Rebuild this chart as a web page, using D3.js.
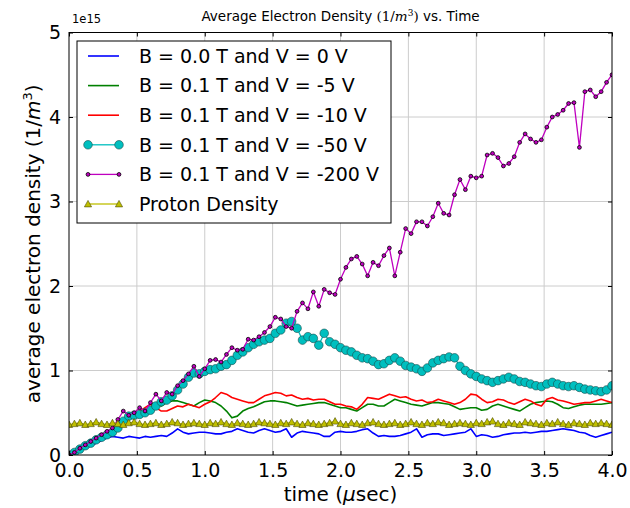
<!DOCTYPE html>
<html>
<head>
<meta charset="utf-8">
<script src="https://cdn.jsdelivr.net/npm/d3@7"></script>
<style>
  html, body { margin: 0; padding: 0; background: #fff; }
  svg { display: block; font-family: "DejaVu Sans", sans-serif; }
</style>
</head>
<body>
<svg id="chart" width="630" height="508"></svg>
<script>
// ---- data (density in units of 1e15 m^-3, time in microseconds) ----
const time = [
  0.00,0.04,0.08,0.12,0.16,0.20,0.24,0.28,0.32,0.36,
  0.40,0.44,0.48,0.52,0.56,0.60,0.64,0.68,0.72,0.76,
  0.80,0.84,0.88,0.92,0.96,1.00,1.04,1.08,1.12,1.16,
  1.20,1.24,1.28,1.32,1.36,1.40,1.44,1.48,1.52,1.56,
  1.60,1.64,1.68,1.72,1.76,1.80,1.84,1.88,1.92,1.96,
  2.00,2.04,2.08,2.12,2.16,2.20,2.24,2.28,2.32,2.36,
  2.40,2.44,2.48,2.52,2.56,2.60,2.64,2.68,2.72,2.76,
  2.80,2.84,2.88,2.92,2.96,3.00,3.04,3.08,3.12,3.16,
  3.20,3.24,3.28,3.32,3.36,3.40,3.44,3.48,3.52,3.56,
  3.60,3.64,3.68,3.72,3.76,3.80,3.84,3.88,3.92,3.96,
  4.00
];
const b00v0 = [
  0.00,0.02,0.05,0.08,0.11,0.14,0.17,0.20,0.22,0.21,
  0.20,0.22,0.21,0.20,0.22,0.21,0.22,0.23,0.22,0.26,
  0.31,0.27,0.25,0.26,0.27,0.27,0.26,0.25,0.25,0.27,
  0.28,0.31,0.29,0.27,0.26,0.29,0.31,0.29,0.27,0.28,
  0.31,0.21,0.26,0.28,0.27,0.26,0.25,0.22,0.22,0.27,
  0.28,0.27,0.27,0.28,0.30,0.31,0.26,0.22,0.23,0.22,
  0.22,0.23,0.25,0.27,0.31,0.21,0.24,0.25,0.25,0.23,
  0.24,0.25,0.26,0.27,0.31,0.22,0.24,0.23,0.21,0.22,
  0.24,0.25,0.26,0.26,0.27,0.26,0.27,0.28,0.28,0.29,
  0.30,0.31,0.30,0.29,0.27,0.26,0.23,0.21,0.23,0.25,
  0.27
];
const b01v5 = [
  0.00,0.03,0.07,0.11,0.15,0.19,0.22,0.26,0.30,0.35,
  0.40,0.44,0.46,0.49,0.52,0.56,0.60,0.58,0.62,0.64,
  0.64,0.62,0.60,0.58,0.62,0.65,0.64,0.62,0.58,0.52,
  0.44,0.46,0.52,0.55,0.57,0.60,0.63,0.64,0.64,0.63,
  0.62,0.60,0.58,0.59,0.60,0.61,0.62,0.62,0.60,0.58,
  0.56,0.56,0.54,0.52,0.56,0.60,0.60,0.58,0.58,0.62,
  0.66,0.64,0.62,0.60,0.59,0.58,0.60,0.62,0.62,0.61,
  0.60,0.57,0.54,0.55,0.56,0.56,0.53,0.54,0.58,0.60,
  0.58,0.56,0.54,0.52,0.56,0.60,0.62,0.63,0.64,0.63,
  0.60,0.56,0.55,0.57,0.59,0.60,0.60,0.60,0.60,0.61,
  0.62
];
const b01v10 = [
  0.00,0.03,0.07,0.11,0.15,0.19,0.23,0.26,0.30,0.36,
  0.42,0.45,0.48,0.52,0.56,0.60,0.56,0.52,0.52,0.55,
  0.58,0.57,0.60,0.58,0.56,0.60,0.63,0.68,0.74,0.72,
  0.68,0.66,0.64,0.62,0.62,0.66,0.70,0.72,0.74,0.73,
  0.70,0.71,0.68,0.66,0.67,0.65,0.66,0.66,0.63,0.60,
  0.60,0.58,0.57,0.54,0.60,0.68,0.67,0.66,0.69,0.72,
  0.70,0.68,0.69,0.66,0.64,0.65,0.62,0.63,0.66,0.64,
  0.62,0.60,0.62,0.66,0.72,0.71,0.66,0.62,0.63,0.66,
  0.65,0.62,0.60,0.63,0.66,0.64,0.60,0.58,0.66,0.68,
  0.65,0.64,0.62,0.60,0.61,0.62,0.62,0.64,0.66,0.64,
  0.62
];
const b01v50 = [
  0.00,0.03,0.07,0.11,0.14,0.18,0.21,0.24,0.27,0.32,
  0.40,0.46,0.47,0.48,0.50,0.53,0.58,0.63,0.65,0.70,
  0.77,0.84,0.92,0.97,0.96,0.99,1.01,1.02,1.05,1.07,
  1.12,1.18,1.22,1.27,1.31,1.34,1.36,1.38,1.44,1.48,
  1.56,1.58,1.50,1.36,1.40,1.38,1.30,1.44,1.34,1.31,
  1.27,1.24,1.22,1.18,1.15,1.14,1.11,1.07,1.08,1.12,
  1.15,1.11,1.06,1.04,1.02,0.99,1.03,1.09,1.12,1.14,
  1.16,1.15,1.05,1.00,0.96,0.93,0.90,0.88,0.86,0.88,
  0.90,0.92,0.90,0.87,0.86,0.84,0.82,0.81,0.84,0.86,
  0.84,0.82,0.81,0.82,0.80,0.78,0.77,0.76,0.75,0.77,
  0.82
];
const b01v200 = [
  0.00,0.03,0.08,0.12,0.16,0.20,0.24,0.28,0.32,0.42,
  0.52,0.47,0.50,0.56,0.52,0.62,0.72,0.64,0.74,0.72,
  0.82,0.88,0.96,1.05,0.93,1.02,1.12,1.13,1.10,1.19,
  1.27,1.24,1.25,1.37,1.36,1.40,1.45,1.52,1.63,1.61,
  1.52,1.50,1.70,1.80,1.73,1.93,1.76,1.96,1.92,1.90,
  2.08,2.22,2.32,2.35,2.26,2.12,2.28,2.24,2.36,2.45,
  2.12,2.40,2.68,2.62,2.76,2.76,2.71,2.82,2.98,2.86,
  2.84,3.08,3.26,3.14,3.30,3.28,3.30,3.55,3.57,3.52,
  3.42,3.45,3.53,3.70,3.80,3.74,3.70,3.73,3.88,4.00,
  4.03,4.08,4.16,4.17,3.64,4.30,4.32,4.24,4.30,4.41,
  4.50
];
const proton = [
  0.36,0.37,0.38,0.36,0.37,0.39,0.37,0.36,0.38,0.37,
  0.36,0.38,0.39,0.37,0.36,0.37,0.38,0.36,0.37,0.39,
  0.38,0.36,0.37,0.38,0.37,0.36,0.38,0.37,0.39,0.37,
  0.36,0.38,0.37,0.36,0.37,0.39,0.38,0.37,0.36,0.38,
  0.37,0.39,0.37,0.36,0.38,0.37,0.36,0.37,0.38,0.40,
  0.37,0.36,0.38,0.37,0.36,0.38,0.39,0.37,0.36,0.37,
  0.38,0.36,0.37,0.39,0.37,0.36,0.38,0.37,0.39,0.38,
  0.36,0.37,0.38,0.37,0.36,0.38,0.37,0.39,0.40,0.37,
  0.36,0.38,0.37,0.36,0.39,0.38,0.37,0.36,0.38,0.37,
  0.39,0.37,0.36,0.38,0.37,0.36,0.38,0.37,0.38,0.37,
  0.36
];
const seriesNames = [
  "B = 0.0 T and V = 0 V",
  "B = 0.1 T and V = -5 V",
  "B = 0.1 T and V = -10 V",
  "B = 0.1 T and V = -50 V",
  "B = 0.1 T and V = -200 V",
  "Proton Density"
];
const xTicks = [0.0, 0.5, 1.0, 1.5, 2.0, 2.5, 3.0, 3.5, 4.0];
const yTicks = [0, 1, 2, 3, 4, 5];

// ---- styling ----
const series = [
  { name: seriesNames[0], values: b00v0,   color: "#0000ff", marker: null },
  { name: seriesNames[1], values: b01v5,   color: "#008000", marker: null },
  { name: seriesNames[2], values: b01v10,  color: "#ff0000", marker: null },
  { name: seriesNames[3], values: b01v50,  color: "#00bfbf", marker: "circle" },
  { name: seriesNames[4], values: b01v200, color: "#bf00bf", marker: "point" },
  { name: seriesNames[5], values: proton,  color: "#bfbf00", marker: "triangle" }
];

const svg = d3.select("#chart");
const L = 69, R = 612, T = 32.5, B = 455;
const x = d3.scaleLinear().domain([0, 4]).range([L, R]);
const y = d3.scaleLinear().domain([0, 5]).range([B, T]);

// grid
const grid = svg.append("g");
grid.selectAll("line.gx").data(xTicks.slice(1, -1)).join("line")
  .attr("x1", d => x(d)).attr("x2", d => x(d)).attr("y1", T).attr("y2", B)
  .attr("stroke", "#cccccc").attr("stroke-width", 1);
grid.selectAll("line.gy").data(yTicks.slice(1, -1)).join("line")
  .attr("y1", d => y(d)).attr("y2", d => y(d)).attr("x1", L).attr("x2", R)
  .attr("stroke", "#cccccc").attr("stroke-width", 1);

svg.append("defs").append("clipPath").attr("id", "clip")
  .append("rect").attr("x", L).attr("y", T).attr("width", R - L).attr("height", B - T);

const plot = svg.append("g").attr("clip-path", "url(#clip)");
const line = d3.line().x((d, i) => x(time[i])).y(d => y(d));

function drawMarker(g, type, color, cx, cy) {
  if (type === "circle") {
    g.append("circle").attr("cx", cx).attr("cy", cy).attr("r", 4.3)
      .attr("fill", color).attr("stroke", "#1a4a4a").attr("stroke-width", 0.6);
  } else if (type === "point") {
    g.append("circle").attr("cx", cx).attr("cy", cy).attr("r", 1.9)
      .attr("fill", color).attr("stroke", "#000").attr("stroke-width", 0.8);
  } else if (type === "triangle") {
    const s = 3.6;
    g.append("path")
      .attr("d", `M${cx},${cy - s}L${cx + s},${cy + s * 0.8}L${cx - s},${cy + s * 0.8}Z`)
      .attr("fill", color).attr("stroke", "#4a4a00").attr("stroke-width", 0.6);
  }
}

series.forEach(s => {
  const g = plot.append("g");
  g.append("path").datum(s.values).attr("d", line)
    .attr("fill", "none").attr("stroke", s.color)
    .attr("stroke-width", s.marker ? 1.3 : 1.6).attr("stroke-linejoin", "round");
  if (s.marker) {
    s.values.forEach((v, i) => drawMarker(g, s.marker, s.color, x(time[i]), y(v)));
  }
});

// frame
svg.append("rect").attr("x", L).attr("y", T).attr("width", R - L).attr("height", B - T)
  .attr("fill", "none").attr("stroke", "#000").attr("stroke-width", 1);

// axes with inward ticks
const xb = svg.append("g").attr("transform", `translate(0,${B})`)
  .call(d3.axisBottom(x).tickValues(xTicks).tickFormat(d3.format(".1f")).tickSizeInner(-4).tickSizeOuter(0).tickPadding(8));
const xt = svg.append("g").attr("transform", `translate(0,${T})`)
  .call(d3.axisTop(x).tickValues(xTicks).tickFormat("").tickSizeInner(-4).tickSizeOuter(0));
const yl = svg.append("g").attr("transform", `translate(${L},0)`)
  .call(d3.axisLeft(y).tickValues(yTicks).tickFormat(d3.format("d")).tickSizeInner(-4).tickSizeOuter(0).tickPadding(8));
const yr = svg.append("g").attr("transform", `translate(${R},0)`)
  .call(d3.axisRight(y).tickValues(yTicks).tickFormat("").tickSizeInner(-4).tickSizeOuter(0));
[xb, xt, yl, yr].forEach(a => {
  a.select(".domain").remove();
  a.selectAll(".tick line").attr("stroke", "#000");
});
xb.selectAll("text").attr("font-size", 19).attr("font-family", "DejaVu Sans").attr("fill", "#000").attr("dy", "0.75em");
yl.selectAll("text").attr("font-size", 19).attr("font-family", "DejaVu Sans").attr("fill", "#000");

// offset text
svg.append("text").attr("x", L + 3).attr("y", 23).attr("font-size", 11.5).text("1e15");

// title
const title = svg.append("text").attr("x", (L + R) / 2).attr("y", 21)
  .attr("text-anchor", "middle").attr("font-size", 13.5);
title.append("tspan").text("Average Electron Density ");
title.append("tspan").attr("font-family", "DejaVu Serif").text("(1/");
title.append("tspan").attr("font-family", "DejaVu Serif").attr("font-style", "italic").text("m");
title.append("tspan").attr("font-family", "DejaVu Serif").attr("font-size", 9).attr("dy", -5).text("3");
title.append("tspan").attr("font-family", "DejaVu Serif").attr("dy", 5).text(")");
title.append("tspan").text(" vs. Time");

// x label
const xl = svg.append("text").attr("x", (L + R) / 2).attr("y", 501)
  .attr("text-anchor", "middle").attr("font-size", 20);
xl.append("tspan").text("time (");
xl.append("tspan").attr("font-style", "italic").text("μ");
xl.append("tspan").text("sec)");

// y label
const ylab = svg.append("text")
  .attr("transform", `translate(40,${(T + B) / 2}) rotate(-90)`)
  .attr("text-anchor", "middle").attr("font-size", 20);
ylab.append("tspan").text("average electron density (1/");
ylab.append("tspan").attr("font-style", "italic").text("m");
ylab.append("tspan").attr("font-size", 13).attr("dy", -8).text("3");
ylab.append("tspan").attr("dy", 8).text(")");

// legend
const lg = svg.append("g");
lg.append("rect").attr("x", 77).attr("y", 41).attr("width", 314).attr("height", 182)
  .attr("fill", "#fff").attr("stroke", "#000").attr("stroke-width", 1);
series.forEach((s, i) => {
  const cy = 56 + i * 29.6;
  const row = lg.append("g");
  row.append("line").attr("x1", 88).attr("x2", 119).attr("y1", cy).attr("y2", cy)
    .attr("stroke", s.color).attr("stroke-width", s.marker ? 1.3 : 1.6);
  if (s.marker) {
    drawMarker(row, s.marker, s.color, 88, cy);
    drawMarker(row, s.marker, s.color, 119, cy);
  }
  row.append("text").attr("x", 139).attr("y", cy).attr("dy", "0.36em")
    .attr("font-size", 19).text(s.name);
});
</script>
</body>
</html>
